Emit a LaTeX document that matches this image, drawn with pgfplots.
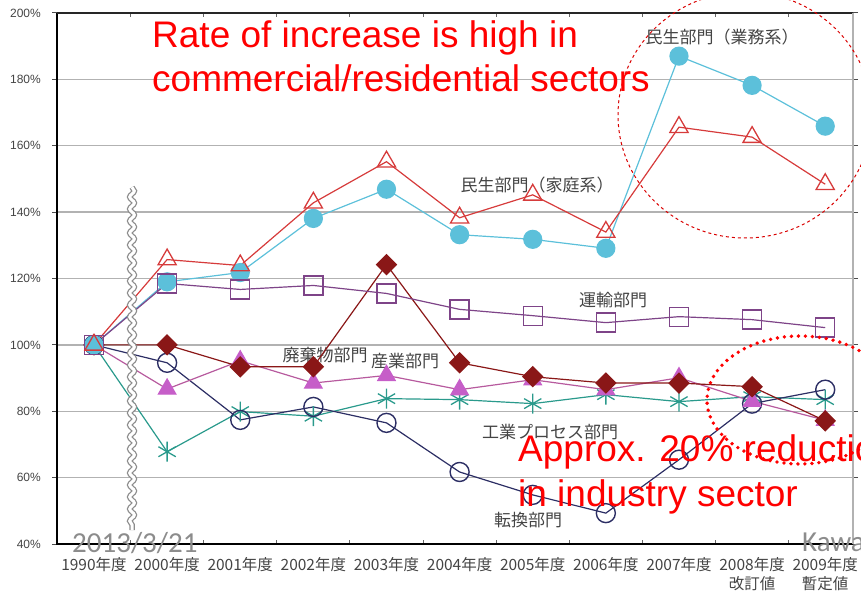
\documentclass[border=0pt]{standalone}
\usepackage{fontspec}
\setmainfont{Liberation Sans}
\newfontfamily\cjk{Noto Sans CJK JP}
\newfontfamily\calfont{Carlito}
\usepackage{pgfplots}
\pgfplotsset{compat=1.18}
\usetikzlibrary{decorations.pathmorphing,plotmarks}
\definecolor{comC}{HTML}{5CC0DA}
\definecolor{houseR}{HTML}{D63B3B}
\definecolor{transP}{HTML}{7E4488}
\definecolor{wasteR}{HTML}{8A1717}
\definecolor{indM}{HTML}{C65EC8}
\definecolor{indL}{HTML}{B75A9E}
\definecolor{procT}{HTML}{2A9A8C}
\definecolor{convN}{HTML}{2C2E64}
\definecolor{lab}{HTML}{444444}
\begin{document}
\begin{tikzpicture}[x=1pt,y=1pt]
% sector labels (under the data)
\begin{scope}[every node/.style={font=\cjk\fontsize{17}{19}\selectfont, text=lab, inner sep=0pt}]
\node at (722,554) {民生部門（業務系）};
\node at (537,406) {民生部門（家庭系）};
\node at (613,291) {運輸部門};
\node at (325,236) {廃棄物部門};
\node at (405,230) {産業部門};
\node at (550,159) {工業プロセス部門};
\node at (528,71) {転換部門};
\end{scope}
\begin{axis}[
  at={(57pt,47pt)}, anchor=south west,
  scale only axis, width=796pt, height=531pt,
  xmin=-0.506, xmax=10.38, ymin=40, ymax=200,
  axis line style={draw=none},
  ytick={40,60,...,200},
  yticklabels={40\%,60\%,80\%,100\%,120\%,140\%,160\%,180\%,200\%},
  yticklabel style={font=\fontsize{12}{14}\selectfont, text=lab, inner sep=0pt, anchor=east, xshift=-11pt},
  ymajorgrids, grid style={draw=black!30, line width=1.4pt},
  tick align=outside, major tick length=5pt,
  ytick style={draw=black!70, line width=1pt},
  xtick={0,...,10},
  xtick style={draw=none},
  xticklabels={1990年度,2000年度,2001年度,2002年度,2003年度,2004年度,2005年度,2006年度,2007年度,{2008年度\\改訂値},{2009年度\\暫定値}},
  xticklabel style={font=\cjk\fontsize{15.5}{19}\selectfont, text=lab, align=center, anchor=north, inner sep=0pt, yshift=-8pt},
  extra x ticks={0.5,1.5,...,9.5}, extra x tick labels={},
  extra x tick style={grid=none, tick align=inside, major tick length=4pt, xtick style={draw=black!60, line width=1pt}},
  clip=false,
]
\addplot[procT, line width=1.2pt, mark=asterisk, mark size=10pt, mark options={line width=1.3pt}] coordinates {(0,100)(1,67.8)(2,79.9)(3,78.5)(4,83.8)(5,83.5)(6,82.3)(7,85)(8,82.9)(9,84.4)(10,83.5)};
\addplot[convN, line width=1.2pt, mark=o, mark size=9.5pt, mark options={line width=1.4pt}] coordinates {(0,100)(1,94.6)(2,77.4)(3,81.3)(4,76.5)(5,61.7)(6,54.8)(7,49.3)(8,65.4)(9,82.3)(10,86.5)};
\addplot[indL, line width=1.2pt, mark=triangle*, mark size=10pt, mark options={fill=indM, draw=indM}] coordinates {(0,100)(1,86.7)(2,95.2)(3,88.5)(4,90.8)(5,86.5)(6,89.5)(7,86.5)(8,90.1)(9,83)(10,77.3)};
\addplot[wasteR, line width=1.2pt, mark=square*, mark size=7pt, mark options={fill=wasteR, draw=wasteR, rotate=45}] coordinates {(0,100)(1,100)(2,93.4)(3,93.4)(4,124.2)(5,94.6)(6,90.4)(7,88.5)(8,88.5)(9,87.4)(10,77.1)};
\addplot[comC, line width=1.2pt, mark=*, mark size=9pt, mark options={fill=comC, draw=comC}] coordinates {(0,100)(1,119)(2,121.8)(3,138.1)(4,146.9)(5,133.2)(6,131.8)(7,129.1)(8,187)(9,178.2)(10,165.9)};
\addplot[transP, line width=1.2pt, mark=square, mark size=9.5pt, mark options={line width=1.3pt}] coordinates {(0,100)(1,118.5)(2,116.7)(3,117.9)(4,115.5)(5,110.7)(6,108.8)(7,106.7)(8,108.5)(9,107.6)(10,105.2)};
\addplot[houseR, line width=1.2pt, mark=triangle, mark size=10.5pt, mark options={line width=1.3pt}] coordinates {(0,100)(1,125.7)(2,123.9)(3,142.8)(4,155.2)(5,138.3)(6,145.2)(7,134)(8,165.6)(9,162.6)(10,148.4)};
% axis frame
\draw[black, line width=2.2pt] (rel axis cs:0,1) -- (rel axis cs:0,0) -- (rel axis cs:1,0);
\draw[black!85, line width=1.8pt] (rel axis cs:0,1) -- (rel axis cs:1,1);
\draw[black!30, line width=1.2pt] (rel axis cs:1,0) -- (rel axis cs:1,1);
% axis break
\draw[decorate, decoration={snake, amplitude=2.3pt, segment length=12pt}, black!45, line width=5.5pt] (axis cs:0.52,147.5) -- (axis cs:0.52,44.2);
\draw[decorate, decoration={snake, amplitude=2.3pt, segment length=12pt}, white, line width=3pt] (axis cs:0.52,147.5) -- (axis cs:0.52,44.2);
\end{axis}
% annotations
\draw[red!85!black, line width=1pt, dash pattern=on 3pt off 3pt] (745,476) ellipse [x radius=127, y radius=123];
\draw[red, line width=3.8pt, dash pattern=on 0pt off 7pt, line cap=round] (800,191) ellipse [x radius=93, y radius=64];
\node[anchor=base west, inner sep=0pt, text=red, font=\fontsize{37}{40}\selectfont] at (152,543) {Rate of increase is high in};
\node[anchor=base west, inner sep=0pt, text=red, font=\fontsize{37}{40}\selectfont] at (152,499) {commercial/residential sectors};
\node[anchor=base west, inner sep=0pt, text=red, font=\fontsize{37}{40}\selectfont] at (518,129) {Approx. 20\% reduction};
\node[anchor=base west, inner sep=0pt, text=red, font=\fontsize{37}{40}\selectfont] at (518,84) {in industry sector};
\node[anchor=base west, inner sep=0pt, text=black!45, font=\calfont\fontsize{29}{32}\selectfont] at (72,38) {2013/3/21};
\node[anchor=base west, inner sep=0pt, text=black!45, font=\calfont\fontsize{29}{32}\selectfont] at (802,39) {Kawa};
\pgfresetboundingbox
\path[use as bounding box] (0,0) rectangle (861,591);
\end{tikzpicture}
\end{document}
